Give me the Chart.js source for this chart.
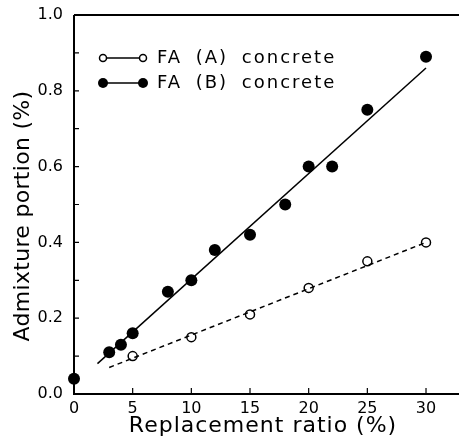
<!DOCTYPE html>
<html>
<head>
<meta charset="utf-8">
<script src="https://cdn.jsdelivr.net/npm/chart.js@4.4.0/dist/chart.umd.min.js"></script>
<style>
  html, body { margin: 0; padding: 0; background: #fff; }
  #wrap { width: 459px; height: 442px; }
</style>
</head>
<body>
<div id="wrap"><canvas id="chart"></canvas></div>
<script>
// Data
const ratioA = [5, 10, 15, 20, 25, 30];
const portionA = [0.10, 0.15, 0.21, 0.28, 0.35, 0.40];

const ratioB = [0, 3, 4, 5, 8, 10, 12, 15, 18, 20, 22, 25, 30];
const portionB = [0.04, 0.11, 0.13, 0.16, 0.27, 0.30, 0.38, 0.42, 0.50, 0.60, 0.60, 0.75, 0.89];

// regression lines (end points)
const fitAx = [3, 30];
const fitAy = [0.07, 0.40];
const fitBx = [2, 30];
const fitBy = [0.08, 0.86];

const xTicks = [0, 5, 10, 15, 20, 25, 30];
const yTicks = [0, 0.2, 0.4, 0.6, 0.8, 1.0];
const yMinor = [0.1, 0.3, 0.5, 0.7, 0.9];

const legendLabels = ['FA (A) concrete', 'FA (B) concrete'];
const xTitle = 'Replacement ratio (%)';
const yTitle = 'Admixture portion (%)';

const FONT = '"DejaVu Sans", sans-serif';
const toPts = (xs, ys) => xs.map((x, i) => ({ x: x, y: ys[i] }));

// axes frame, inward ticks, titles, legend
const framePlugin = {
    id: 'frame',
    afterDraw(chart) {
        const { ctx, chartArea: a, scales } = chart;
        const xs = scales.x, ys = scales.y;
        const W = chart.width;
        ctx.save();
        ctx.strokeStyle = '#000';
        ctx.lineWidth = 2;
        ctx.beginPath();
        ctx.moveTo(a.left, a.top);
        ctx.lineTo(a.left, a.bottom);
        ctx.lineTo(W, a.bottom);
        ctx.moveTo(a.left, a.top);
        ctx.lineTo(W, a.top);
        ctx.stroke();

        ctx.lineWidth = 1.2;
        ctx.beginPath();
        yTicks.concat(yMinor).forEach(v => {
            const py = ys.getPixelForValue(v);
            ctx.moveTo(a.left, py);
            ctx.lineTo(a.left + 5, py);
        });
        xTicks.slice(1).forEach(v => {
            const px = xs.getPixelForValue(v);
            ctx.moveTo(px, a.bottom);
            ctx.lineTo(px, a.bottom - 6);
        });
        ctx.stroke();

        // axis titles
        ctx.fillStyle = '#000';
        ctx.font = '22px ' + FONT;
        ctx.letterSpacing = '1px';
        ctx.textAlign = 'center';
        ctx.textBaseline = 'alphabetic';
        ctx.fillText(xTitle, 263, 432);
        ctx.save();
        ctx.translate(29, 216);
        ctx.rotate(-Math.PI / 2);
        ctx.letterSpacing = '0.3px';
        ctx.fillText(yTitle, 0, 0);
        ctx.restore();

        // legend
        const lx0 = a.left + 29, lx1 = a.left + 69, tx = a.left + 83;
        const rows = [a.top + 43, a.top + 68];
        ctx.font = '18px ' + FONT;
        ctx.letterSpacing = '2px';
        ctx.wordSpacing = '6px';
        ctx.textAlign = 'left';
        ctx.textBaseline = 'middle';
        rows.forEach((ry, i) => {
            ctx.lineWidth = 1.5;
            ctx.beginPath();
            ctx.moveTo(lx0, ry);
            ctx.lineTo(lx1, ry);
            ctx.stroke();
            [lx0, lx1].forEach(cx => {
                ctx.beginPath();
                ctx.arc(cx, ry, i === 0 ? 3.5 : 5, 0, Math.PI * 2);
                if (i === 0) {
                    ctx.fillStyle = '#fff';
                    ctx.fill();
                    ctx.stroke();
                } else {
                    ctx.fillStyle = '#000';
                    ctx.fill();
                }
            });
            ctx.fillStyle = '#000';
            ctx.fillText(legendLabels[i], tx, ry);
        });
        ctx.restore();
    }
};

const chart = new Chart(document.getElementById('chart'), {
    type: 'scatter',
    data: {
        datasets: [
            {
                label: 'fitB',
                data: toPts(fitBx, fitBy),
                showLine: true,
                borderColor: '#000',
                borderWidth: 1.5,
                pointRadius: 0
            },
            {
                label: 'fitA',
                data: toPts(fitAx, fitAy),
                showLine: true,
                borderColor: '#000',
                borderWidth: 1.5,
                borderDash: [5, 4],
                pointRadius: 0
            },
            {
                label: legendLabels[0],
                data: toPts(ratioA, portionA),
                pointRadius: 4.5,
                pointBorderWidth: 1.5,
                pointBorderColor: '#000',
                pointBackgroundColor: '#fff'
            },
            {
                label: legendLabels[1],
                data: toPts(ratioB, portionB),
                pointRadius: 6,
                pointBorderWidth: 0,
                pointBackgroundColor: '#000',
                pointBorderColor: '#000'
            }
        ]
    },
    options: {
        responsive: true,
        maintainAspectRatio: false,
        animation: false,
        clip: false,
        layout: { padding: { top: 15, right: 0, left: 0, bottom: 0 } },
        plugins: {
            legend: { display: false },
            tooltip: { enabled: false }
        },
        scales: {
            x: {
                type: 'linear',
                min: 0,
                max: 32.3,
                grid: { display: false },
                border: { display: false },
                afterBuildTicks: s => { s.ticks = xTicks.map(v => ({ value: v })); },
                afterFit: s => { s.height = 48; s.paddingRight = 0; s.paddingLeft = 0; },
                ticks: {
                    padding: -3,
                    maxRotation: 0,
                    autoSkip: false,
                    color: '#000',
                    font: { family: FONT, size: 16 }
                }
            },
            y: {
                min: 0,
                max: 1,
                grid: { display: false },
                border: { display: false },
                afterBuildTicks: s => { s.ticks = yTicks.map(v => ({ value: v })); },
                afterFit: s => { s.width = 74; s.paddingTop = 0; s.paddingBottom = 0; },
                ticks: {
                    padding: 3,
                    color: '#000',
                    font: { family: FONT, size: 16 },
                    callback: v => v.toFixed(1)
                }
            }
        }
    },
    plugins: [framePlugin]
});
</script>
</body>
</html>
